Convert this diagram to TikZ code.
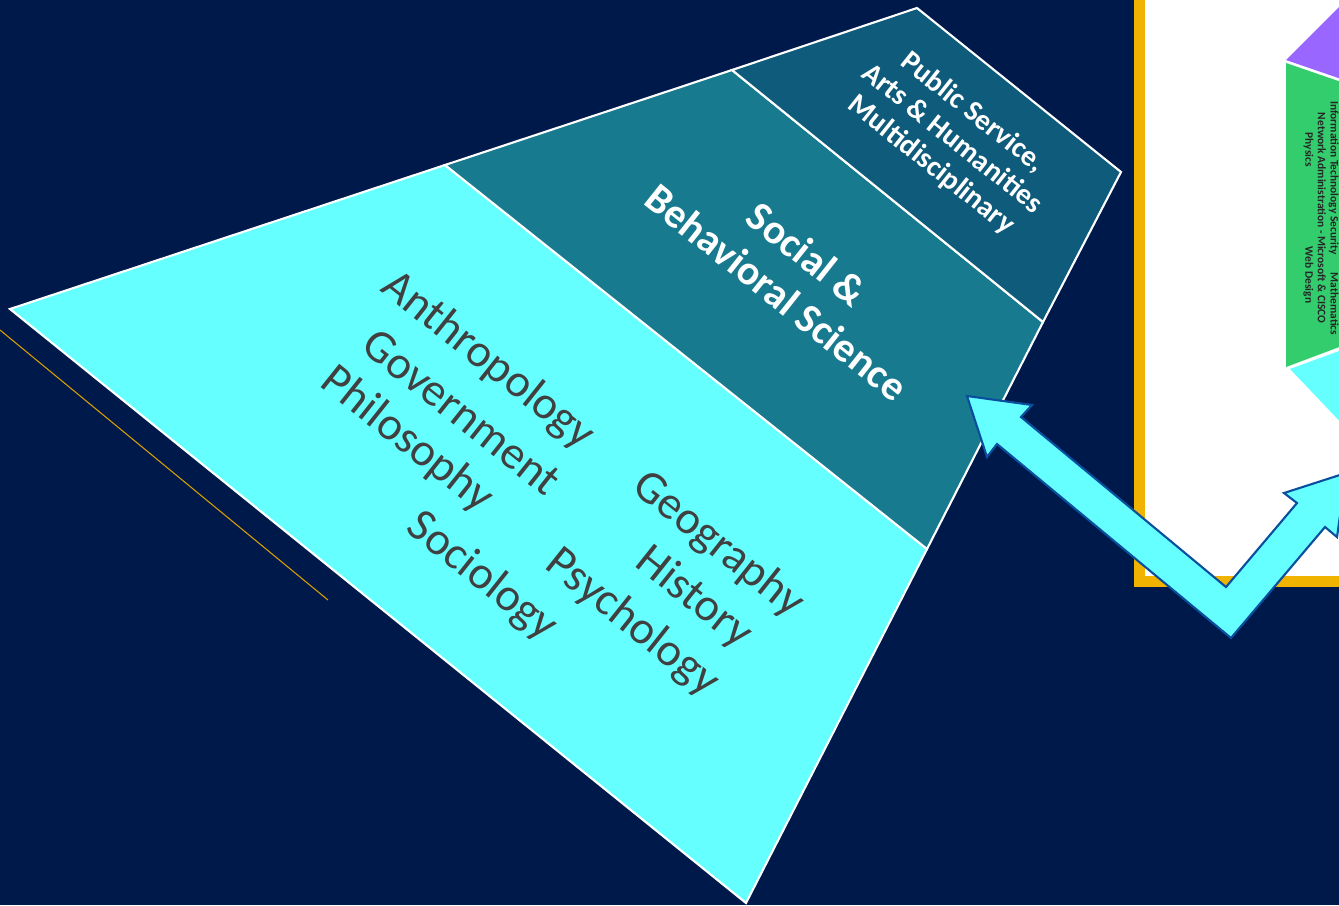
\documentclass[tikz,border=0pt]{standalone}
\usepackage{fontspec}
\setmainfont{Carlito}
\definecolor{navy}{HTML}{00194B}
\definecolor{cyanband}{HTML}{66FFFF}
\definecolor{tealband}{HTML}{177A8F}
\definecolor{blueband}{HTML}{0F5B7B}
\definecolor{textgray}{HTML}{404040}
\definecolor{gold}{HTML}{F0B400}
\definecolor{goldline}{HTML}{D9A000}
\definecolor{arrowblue}{HTML}{0A4F9E}
\definecolor{purpleband}{HTML}{9966FF}
\definecolor{greenband}{HTML}{34CD6E}

\begin{document}
\begin{tikzpicture}[x=0.01cm, y=-0.01cm,
        band/.style={draw=white, line width=0.6pt, line join=miter},
        subject/.style={text=textgray, rotate=-38.5, inner sep=0pt,
            font=\fontsize{13.2}{15}\selectfont},
        bandtitle/.style={text=white, rotate=-38.5, align=center, inner sep=0pt},
        arrowblock/.style={fill=cyanband, draw=arrowblue, line width=0.6pt, line join=miter}]
    \useasboundingbox (0,0) rectangle (1339,905);
    \clip (0,0) rectangle (1339,905);
    \fill[navy] (0,0) rectangle (1339,905);
    \draw[goldline, line width=0.3pt] (0,330) -- (328,600);

    % tilted pyramid
    \coordinate (left) at (10, 309);
    \coordinate (t1) at (445, 165);
    \coordinate (t2) at (732, 70);
    \coordinate (t3) at (917, 8);
    \coordinate (r3) at (1121, 172);
    \coordinate (r2) at (1043, 322);
    \coordinate (r1) at (927, 549);
    \coordinate (bottom) at (746, 903);
    \filldraw[band, fill=cyanband] (left) -- (t1) -- (r1) -- (bottom) -- cycle;
    \filldraw[band, fill=tealband] (t1) -- (t2) -- (r2) -- (r1) -- cycle;
    \filldraw[band, fill=blueband] (t2) -- (t3) -- (r3) -- (r2) -- cycle;

    \node[subject](anthro) at (488, 361) {Anthropology};
    \node[subject](gov) at (462, 412) {Government};
    \node[subject](philo) at (407, 440) {Philosophy};
    \node[subject](socio) at (482, 577) {Sociology};
    \node[subject](geo) at (718, 545) {Geography};
    \node[subject](hist) at (694, 598) {History};
    \node[subject](psych) at (632, 623) {Psychology};

    \node[bandtitle, font=\bfseries\fontsize{11.8}{13.9}\selectfont](social) at (792, 273)
        {Social \&\\Behavioral Science};
    \node[bandtitle, font=\bfseries\fontsize{8.3}{9.5}\selectfont](public) at (952, 139)
        {Public Service,\\Arts \& Humanities\\Multidisciplinary};

    % inset panel
    \fill[gold] (1134,-10) rectangle (1360,587);
    \fill[white] (1145,-10) rectangle (1360,576);
    \fill[purpleband] (1286,60) -- (1350,-4) -- (1350,82) -- cycle;
    \fill[greenband] (1286,63) -- (1350,85) -- (1350,343) -- (1286,367) -- cycle;
    \fill[cyanband] (1290,369) -- (1350,347) -- (1350,432) -- cycle;
    \node[rotate=-90, align=center, inner sep=0pt, text=black!85,
        font=\bfseries\fontsize{3.25}{3.6}\selectfont](itlist) at (1321, 218)
        {Information Technology Security\hspace{1.6em}Mathematics\\
         Network Administration - Microsoft \& CISCO\\
         Physics\hspace{7em}Web Design};

    % double arrow
    \coordinate (a0) at (967, 396);
    \coordinate (a1) at (1032, 405);
    \coordinate (a2) at (1021, 417);
    \coordinate (a3) at (1226, 587);
    \coordinate (a4) at (1297, 503);
    \coordinate (a5) at (1284, 493);
    \coordinate (a6) at (1346, 473);
    \coordinate (a7) at (1337, 537);
    \coordinate (a8) at (1325, 527);
    \coordinate (a9) at (1231, 638);
    \coordinate (a10) at (997, 444);
    \coordinate (a11) at (987, 457);
    \filldraw[arrowblock] (a0) -- (a1) -- (a2) -- (a3) -- (a4) -- (a5) -- (a6)
        -- (a7) -- (a8) -- (a9) -- (a10) -- (a11) -- cycle;
\end{tikzpicture}
\end{document}
